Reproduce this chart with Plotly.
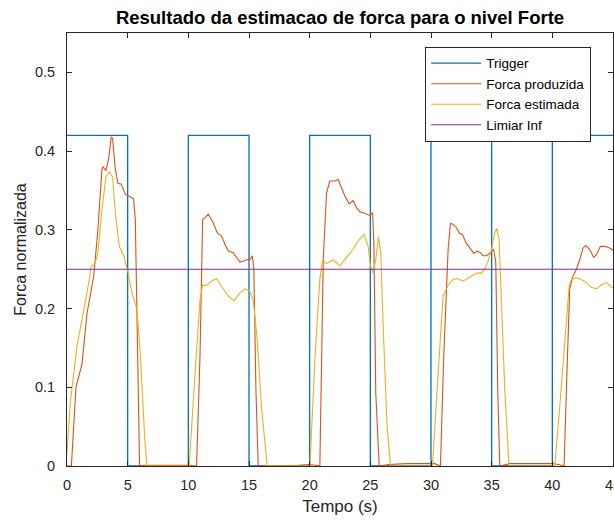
import plotly.graph_objects as go

# ---- data ----
trigger_t = [0, 5, 10, 15, 20, 25, 30, 35, 40, 45]
trigger_v = [0.42, 0, 0.42, 0, 0.42, 0, 0.42, 0, 0.42, 0.42]

prod_t = [0, 0.36, 0.74, 1.24, 1.65, 2.2, 2.53, 2.88, 2.97, 3.21, 3.43, 3.65, 3.76, 3.98, 4.2, 4.48, 4.8, 5.22, 5.49, 5.63, 5.98,
          6.5, 8, 10, 10.68,
          10.96, 11.18, 11.35, 11.64, 11.92, 12.05, 12.38, 12.74, 13.01, 13.29, 13.7, 13.97, 14.25, 14.52, 14.8, 15.07, 15.27, 15.4, 15.57, 15.76,
          17, 19, 20, 20.5, 20.84,
          21.12, 21.39, 21.66, 22.08, 22.35, 22.63, 22.9, 23.26, 23.58, 23.86, 24.14, 24.55, 24.96, 25.18, 25.29, 25.45, 25.73,
          26.5, 28, 29.5, 30.3, 30.78,
          31.05, 31.41, 31.6, 31.82, 32.1, 32.32, 32.6, 32.87, 33.2, 33.53, 33.8, 34.07, 34.29, 34.57, 34.9, 35.17, 35.34, 35.5, 35.67,
          36.5, 38, 40, 40.5, 40.97,
          41.16, 41.43, 41.65, 41.98, 42.26, 42.53, 42.75, 43.08, 43.41, 43.63, 43.96, 44.32, 44.73, 45]
prod_v = [0, 0, 0.10, 0.13, 0.194, 0.241, 0.297, 0.377, 0.38, 0.375, 0.39, 0.418, 0.416, 0.377, 0.359, 0.358, 0.345, 0.342, 0.339, 0.313, 0,
          0.001, 0.001, 0.001, 0,
          0.139, 0.313, 0.315, 0.32, 0.313, 0.309, 0.296, 0.292, 0.282, 0.273, 0.271, 0.265, 0.259, 0.26, 0.262, 0.262, 0.267, 0.25, 0.097, 0,
          0, 0.001, 0.002, 0.001, 0,
          0.262, 0.347, 0.362, 0.362, 0.364, 0.352, 0.343, 0.333, 0.337, 0.328, 0.323, 0.321, 0.318, 0.322, 0.284, 0.092, 0,
          0.002, 0.003, 0.003, 0.003, 0,
          0.139, 0.275, 0.308, 0.307, 0.303, 0.296, 0.294, 0.284, 0.277, 0.27, 0.273, 0.271, 0.267, 0.267, 0.271, 0.275, 0.258, 0.097, 0,
          0.003, 0.003, 0.003, 0.002, 0,
          0.097, 0.224, 0.239, 0.25, 0.262, 0.277, 0.28, 0.275, 0.265, 0.268, 0.279, 0.279, 0.277, 0.274]

est_t = [0, 0.27, 0.82, 1.24, 1.65, 2.0, 2.29, 2.55, 2.88, 3.21, 3.49, 3.76, 3.98, 4.31, 4.67, 5.02, 5.35, 5.77, 6.04, 6.4, 6.59,
         8, 10.07,
         10.54, 10.96, 11.18, 11.45, 11.92, 12.33, 12.74, 13.29, 13.76, 14.25, 14.66, 15.07, 15.35, 15.68, 16.03, 16.5,
         18, 20.02,
         20.43, 20.84, 21.06, 21.39, 21.94, 22.49, 23.04, 23.58, 24.0, 24.49, 24.82, 25.01, 25.23, 25.45, 25.67, 25.86, 26.06, 26.38, 26.66,
         28, 30.12,
         30.59, 31.0, 31.41, 31.82, 32.23, 32.6, 32.9, 33.34, 33.75, 34.16, 34.43, 34.7, 34.98, 35.25, 35.42, 35.61, 35.8, 36.08, 36.43,
         38, 40.2,
         40.61, 41.02, 41.38, 41.57, 41.98, 42.39, 42.81, 43.22, 43.63, 44.04, 44.45, 45]
est_v = [0.016, 0.08, 0.152, 0.186, 0.22, 0.254, 0.256, 0.271, 0.326, 0.367, 0.374, 0.367, 0.322, 0.279, 0.267, 0.247, 0.22, 0.199, 0.143, 0.037, 0,
         0, 0,
         0.114, 0.211, 0.23, 0.229, 0.235, 0.238, 0.228, 0.216, 0.21, 0.22, 0.225, 0.222, 0.211, 0.16, 0.075, 0,
         0, 0,
         0.135, 0.237, 0.261, 0.257, 0.262, 0.254, 0.265, 0.275, 0.286, 0.294, 0.279, 0.254, 0.245, 0.262, 0.291, 0.271, 0.177, 0.05, 0,
         0, 0,
         0.118, 0.216, 0.23, 0.237, 0.238, 0.235, 0.237, 0.241, 0.245, 0.245, 0.25, 0.26, 0.275, 0.296, 0.302, 0.288, 0.203, 0.097, 0,
         0, 0,
         0.075, 0.16, 0.228, 0.237, 0.239, 0.237, 0.233, 0.227, 0.225, 0.23, 0.233, 0.226]

limiar_t = [0, 45]
limiar_v = [0.25, 0.25]

x_ticks = [0, 5, 10, 15, 20, 25, 30, 35, 40, 45]
y_ticks = [0, 0.1, 0.2, 0.3, 0.4, 0.5]
y_tick_labels = ["0", "0.1", "0.2", "0.3", "0.4", "0.5"]

FONT = "Liberation Sans, Arial, Helvetica, sans-serif"
AX = "#262626"

fig = go.Figure()
fig.add_trace(go.Scatter(x=trigger_t, y=trigger_v, mode="lines", name="Trigger",
                         line=dict(color="#0072BD", width=1.3, shape="hv")))
fig.add_trace(go.Scatter(x=prod_t, y=prod_v, mode="lines", name="Forca produzida",
                         line=dict(color="#D95319", width=1.1)))
fig.add_trace(go.Scatter(x=est_t, y=est_v, mode="lines", name="Forca estimada",
                         line=dict(color="#EDB120", width=1.1)))
fig.add_trace(go.Scatter(x=limiar_t, y=limiar_v, mode="lines", name="Limiar Inf",
                         line=dict(color="#7E2F8E", width=1.1)))

fig.update_layout(
    width=614, height=520, autosize=False,
    margin=dict(l=67, r=1, t=33, b=54, pad=0),
    paper_bgcolor="white", plot_bgcolor="white",
    font=dict(family=FONT, size=14, color=AX),
    title=dict(text="<b>Resultado da estimacao de forca para o nivel Forte</b>",
               font=dict(family=FONT, size=18.5, color="black"),
               x=(67 + 613) / 2 / 614, xanchor="center", xref="container",
               y=1 - 18 / 520, yanchor="middle", yref="container", automargin=False),
    showlegend=True,
    legend=dict(x=0.656, y=0.968, xanchor="left", yanchor="top",
                bgcolor="white", bordercolor=AX, borderwidth=1,
                font=dict(family=FONT, size=13.5, color="black"),
                itemwidth=50, tracegroupgap=0),
    xaxis=dict(range=[0, 45], tickvals=x_ticks, ticks="inside", ticklen=5, tickcolor=AX,
               showline=True, linecolor=AX, linewidth=1, mirror="ticks", automargin=False,
               showgrid=False, zeroline=False, ticklabelstandoff=6, ticklabeloverflow="allow",
               tickfont=dict(size=14.5),
               title=dict(text="Tempo (s)", font=dict(size=17, color=AX), standoff=7)),
    yaxis=dict(range=[0, 0.55], tickvals=y_ticks, ticktext=y_tick_labels, ticks="inside", ticklen=5,
               tickcolor=AX, showline=True, linecolor=AX, linewidth=1, mirror="ticks", automargin=False,
               showgrid=False, zeroline=False, ticklabelstandoff=8,
               tickfont=dict(size=14.5),
               title=dict(text="Forca normalizada", font=dict(size=16, color=AX), standoff=4)),
)

post = ("document.body.style.margin='0';document.body.style.padding='0';"
        "document.body.style.overflow='hidden';"
        "var gd=document.getElementById('{plot_id}');"
        "Plotly.relayout(gd,{width:614,height:520});")

fig.write_html("out.html", config={"responsive": False, "displayModeBar": False},
               default_width="614px", default_height="520px", post_script=post)
